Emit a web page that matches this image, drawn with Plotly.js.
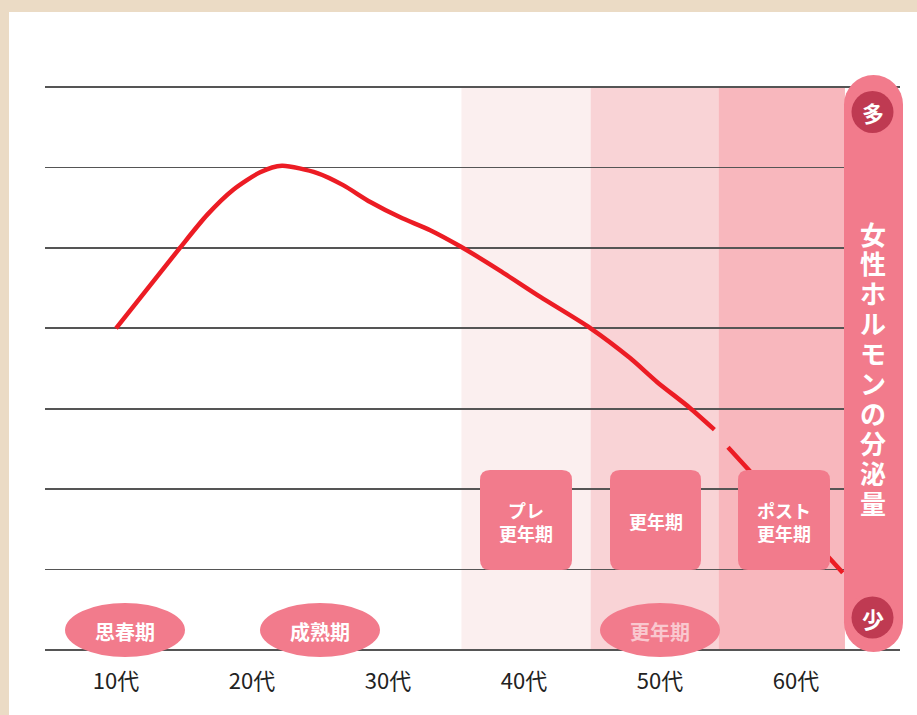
<!DOCTYPE html>
<html><head><meta charset="utf-8">
<script src="https://cdn.plot.ly/plotly-3.0.1.min.js"></script>
<style>
html,body{margin:0;padding:0;background:#EBDBC5;overflow:hidden;}
#frame{position:absolute;left:9px;top:12px;width:908px;height:703px;background:#ffffff;}
#chart{position:absolute;left:0;top:0;width:917px;height:715px;}
</style></head>
<body><div id="frame"></div><div id="chart"></div>
<script>
// ---- data ----
const ageTicks = [10, 20, 30, 40, 50, 60];
const ageLabels = ['10代', '20代', '30代', '40代', '50代', '60代'];
const curveAges = [10.0, 14.7, 16.7, 18.6, 20.6, 22.2, 24.8, 26.7, 28.7, 30.9, 33.1, 35.3, 38.2, 41.2, 44.9, 47.8, 49.8, 52.2, 54.0];
const curveLevels = [4.0, 5.0, 5.41, 5.72, 5.94, 6.02, 5.93, 5.78, 5.57, 5.38, 5.22, 5.02, 4.72, 4.39, 4.0, 3.63, 3.33, 3.01, 2.74];
const projAges = [55.0, 63.5];
const projLevels = [2.52, 0.95];
const bandEdges = [35.4, 44.9, 54.3, 63.6];
const stageBoxLabels = ['プレ<br>更年期', '更年期', 'ポスト<br>更年期'];
const stageOvalLabels = ['思春期', '成熟期', '更年期'];
const axisTitleChars = ['女', '性', 'ホ', 'ル', 'モ', 'ン', 'の', '分', '泌', '量'];
const axisTopLabel = '多';
const axisBottomLabel = '少';

// ---- geometry / styles ----
const L = 45, R = 900, T = 83, B = 654;
const W = R - L, H = B - T;
const px = x => (x - L) / W;
const py = y => (B - y) / H;
const FONT = '"Noto Sans CJK JP", "Noto Sans", sans-serif';
const PINK = '#F27B8C';
const DARK = '#BF3A52';
const RED = '#EC1C24';
const bandColors = ['#FBEFEF', '#F9D3D6', '#F8B7BD'];

function roundRect(x0, y0, x1, y1, r) {
  const X0 = px(x0), X1 = px(x1), Yt = py(y0), Yb = py(y1);
  const rx = r / W, ry = r / H;
  return `M${X0 + rx},${Yt} L${X1 - rx},${Yt} Q${X1},${Yt} ${X1},${Yt - ry} L${X1},${Yb + ry} Q${X1},${Yb} ${X1 - rx},${Yb} L${X0 + rx},${Yb} Q${X0},${Yb} ${X0},${Yb + ry} L${X0},${Yt - ry} Q${X0},${Yt} ${X0 + rx},${Yt} Z`;
}

const shapes = [];
const annotations = [];

// background bands
for (let i = 0; i < 3; i++) {
  shapes.push({type: 'rect', xref: 'x', yref: 'y', x0: bandEdges[i], x1: bandEdges[i + 1], y0: 0, y1: 7,
    fillcolor: bandColors[i], line: {width: 0}, layer: 'below'});
}

// stage boxes
const boxPx = [[480, 572], [610, 701], [738, 830]];
stageBoxLabels.forEach((t, i) => {
  shapes.push({type: 'path', xref: 'paper', yref: 'paper', path: roundRect(boxPx[i][0], 470, boxPx[i][1], 570, 10),
    fillcolor: PINK, line: {width: 0}, layer: 'above'});
  annotations.push({xref: 'paper', yref: 'paper', x: px((boxPx[i][0] + boxPx[i][1]) / 2), y: py(521),
    text: t, showarrow: false, xanchor: 'center', yanchor: 'middle',
    font: {family: FONT, size: 18, color: '#ffffff', weight: 'bold'}});
});

// ovals
const ovalCx = [125, 320, 660];
const ovalTextColor = ['#ffffff', '#ffffff', '#F9C8CF'];
stageOvalLabels.forEach((t, i) => {
  shapes.push({type: 'circle', xref: 'paper', yref: 'paper', x0: px(ovalCx[i] - 60), x1: px(ovalCx[i] + 60),
    y0: py(657), y1: py(603), fillcolor: PINK, line: {width: 0}, layer: 'above'});
  annotations.push({xref: 'paper', yref: 'paper', x: px(ovalCx[i]), y: py(631), text: t, showarrow: false,
    xanchor: 'center', yanchor: 'middle', font: {family: FONT, size: 20, color: ovalTextColor[i], weight: 'bold'}});
});

// right vertical bar
shapes.push({type: 'rect', xref: 'paper', yref: 'paper', x0: px(844), x1: px(903), y0: py(622.5), y1: py(104.5),
  fillcolor: PINK, line: {width: 0}, layer: 'above'});
shapes.push({type: 'circle', xref: 'paper', yref: 'paper', x0: px(844), x1: px(903), y0: py(134), y1: py(75),
  fillcolor: PINK, line: {width: 0}, layer: 'above'});
shapes.push({type: 'circle', xref: 'paper', yref: 'paper', x0: px(844), x1: px(903), y0: py(652), y1: py(593),
  fillcolor: PINK, line: {width: 0}, layer: 'above'});
[[112, axisTopLabel], [617.5, axisBottomLabel]].forEach(([cy, t]) => {
  shapes.push({type: 'circle', xref: 'paper', yref: 'paper', x0: px(851.5), x1: px(893.5), y0: py(cy + 21), y1: py(cy - 21),
    fillcolor: DARK, line: {width: 0}, layer: 'above'});
  annotations.push({xref: 'paper', yref: 'paper', x: px(872.5), y: py(cy), text: t, showarrow: false,
    xanchor: 'center', yanchor: 'middle', font: {family: FONT, size: 22, color: '#ffffff', weight: 'bold'}});
});
axisTitleChars.forEach((c, i) => {
  annotations.push({xref: 'paper', yref: 'paper', x: px(873), y: py(233 + i * 29.9), text: c, showarrow: false,
    xanchor: 'center', yanchor: 'middle', font: {family: FONT, size: 26, color: '#ffffff', weight: 'bold'}});
});

const traces = [
  {x: curveAges, y: curveLevels, type: 'scatter', mode: 'lines',
   line: {color: RED, width: 4.5, shape: 'spline', smoothing: 0.7}, hoverinfo: 'skip'},
  {x: projAges, y: projLevels, type: 'scatter', mode: 'lines',
   line: {color: RED, width: 4.5, dash: '42px,22px'}, hoverinfo: 'skip'}
];

const layout = {
  width: 917, height: 715,
  margin: {l: L, r: 917 - R, t: T, b: 715 - B, pad: 0},
  paper_bgcolor: 'rgba(0,0,0,0)', plot_bgcolor: 'rgba(0,0,0,0)',
  showlegend: false, hovermode: false,
  font: {family: FONT},
  xaxis: {range: [10 + (L - 116) / 13.6, 10 + (R - 116) / 13.6], tickvals: ageTicks, ticktext: ageLabels,
    showgrid: false, zeroline: false, showline: false, ticks: '', ticklabelstandoff: 12,
    tickfont: {family: FONT, size: 22, color: '#222222'}, fixedrange: true},
  yaxis: {range: [-0.05, 7.05], tickvals: [0, 1, 2, 3, 4, 5, 6, 7], showgrid: true, gridcolor: '#555555', gridwidth: 1.6,
    zeroline: false, showline: false, showticklabels: false, ticks: '', fixedrange: true},
  shapes: shapes,
  annotations: annotations
};

Plotly.newPlot('chart', traces, layout, {staticPlot: true, displayModeBar: false});
</script>
</body></html>
